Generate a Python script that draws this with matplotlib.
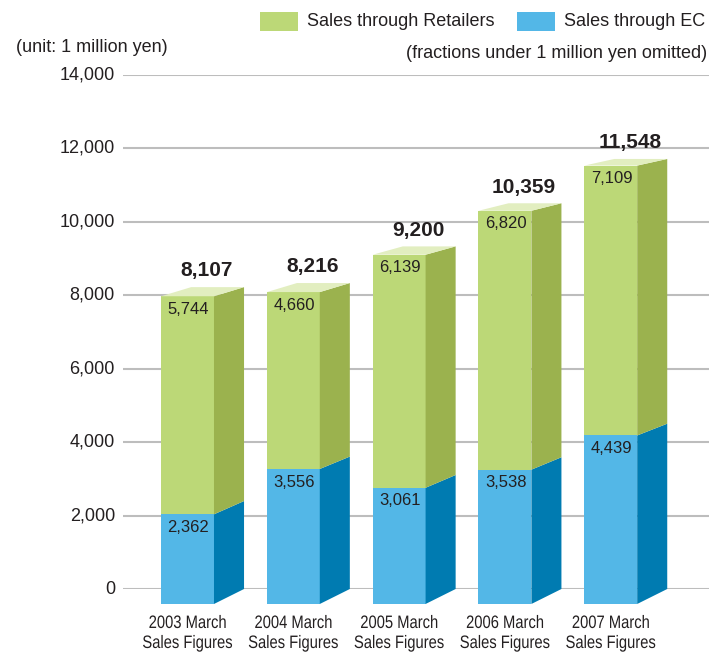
import matplotlib.pyplot as plt
from matplotlib.patches import Polygon, PathPatch
from matplotlib.textpath import TextPath
from matplotlib.font_manager import FontProperties
from matplotlib.transforms import Affine2D, IdentityTransform

# data (unit: 1 million yen)
years = ['2003', '2004', '2005', '2006', '2007']
retail = [5744, 4660, 6139, 6820, 7109]
ec = [2362, 3556, 3061, 3538, 4439]
totals = [8107, 8216, 9200, 10359, 11548]
yticks = [0, 2000, 4000, 6000, 8000, 10000, 12000, 14000]

plt.rcParams['font.family'] = ['Liberation Sans', 'DejaVu Sans']
txt = '#231f20'

W, H = 709, 653
fig = plt.figure(figsize=(W / 100, H / 100), dpi=100)
ax = fig.add_axes([123 / W, (H - 589) / H, (709 - 123) / W, (589 - 75) / H])
ax.set_xlim(0, 586 / 105.8)
ax.set_ylim(0, 14000)
ax.axis('off')

# colours
g_front, g_side, g_top = '#bcd877', '#9bb24e', '#e2eec0'
b_front, b_side = '#53b7e7', '#007bb1'

# gridlines
for t in yticks:
    ax.axhline(t, color='#bdbdbd', lw=1.5, zorder=0)
    ax.text(-8 / 105.8, t, f'{t:,}', ha='right', va='center', fontsize=13, color=txt)

front_w = 0.50
depth = 0.284


def front(v):
    return v * 1.034 - 408


def back(v):
    return v * 1.0143


# condensed category labels (no narrow font installed -> squeeze a text path)
fp = FontProperties(family='Liberation Sans')


def narrow_text(s, cx, cy, size=18, squeeze=0.82):
    tp = TextPath((0, 0), s, size=size, prop=fp)
    bb = tp.get_extents()
    tr = Affine2D().translate(-(bb.x0 + bb.x1) / 2, -size * 0.36).scale(squeeze, 1).translate(cx, H - cy)
    fig.add_artist(PathPatch(tr.transform_path(tp), fc=txt, ec='none', transform=IdentityTransform()))


for i in range(len(years)):
    fl = i + 0.36
    fr = fl + front_w
    br = fr + depth
    segs = [(0, ec[i], b_front, b_side), (ec[i], ec[i] + retail[i], g_front, g_side)]
    for v0, v1, cf, cs in segs:
        ax.add_patch(Polygon([(fl, front(v0)), (fr, front(v0)), (fr, front(v1)), (fl, front(v1))],
                             closed=True, fc=cf, ec='none', zorder=2, clip_on=False))
        ax.add_patch(Polygon([(fr, front(v0)), (br, back(v0)), (br, back(v1)), (fr, front(v1))],
                             closed=True, fc=cs, ec='none', zorder=2, clip_on=False))
    top = ec[i] + retail[i]
    ax.add_patch(Polygon([(fl, front(top)), (fr, front(top)), (br, back(top)), (fl + depth, back(top))],
                         closed=True, fc=g_top, ec='none', zorder=2, clip_on=False))

    # segment labels
    ax.text(fl + 0.06, front(ec[i]) - 360, f'{ec[i]:,}', ha='left', va='center',
            fontsize=12, color=txt, zorder=3)
    ax.text(fl + 0.06, front(top) - 360, f'{retail[i]:,}', ha='left', va='center',
            fontsize=12, color=txt, zorder=3)
    # total
    ax.text(fl + 0.43, back(top) + 440, f'{totals[i]:,}', ha='center', va='center',
            fontsize=15, fontweight='bold', color=txt, zorder=3)
    # category
    cx = 123 + (fl + front_w / 2) * 105.8
    narrow_text(f'{years[i]} March', cx, 621.5)
    narrow_text('Sales Figures', cx, 641.5)

# legend and notes
fig.patches.append(Polygon([(260 / W, 1 - 12 / H), (298 / W, 1 - 12 / H), (298 / W, 1 - 31 / H), (260 / W, 1 - 31 / H)],
                           closed=True, fc=g_front, ec='none', transform=fig.transFigure))
fig.text(307 / W, 1 - 22 / H, 'Sales through Retailers', ha='left', va='center', fontsize=13, color=txt)
fig.patches.append(Polygon([(517 / W, 1 - 12 / H), (555 / W, 1 - 12 / H), (555 / W, 1 - 31 / H), (517 / W, 1 - 31 / H)],
                           closed=True, fc=b_front, ec='none', transform=fig.transFigure))
fig.text(564 / W, 1 - 22 / H, 'Sales through EC', ha='left', va='center', fontsize=13, color=txt)
fig.text(16 / W, 1 - 48 / H, '(unit: 1 million yen)', ha='left', va='center', fontsize=13, color=txt)
fig.text(707 / W, 1 - 53 / H, '(fractions under 1 million yen omitted)', ha='right', va='center',
         fontsize=13, color=txt)

fig.savefig('out.png', dpi=100)
